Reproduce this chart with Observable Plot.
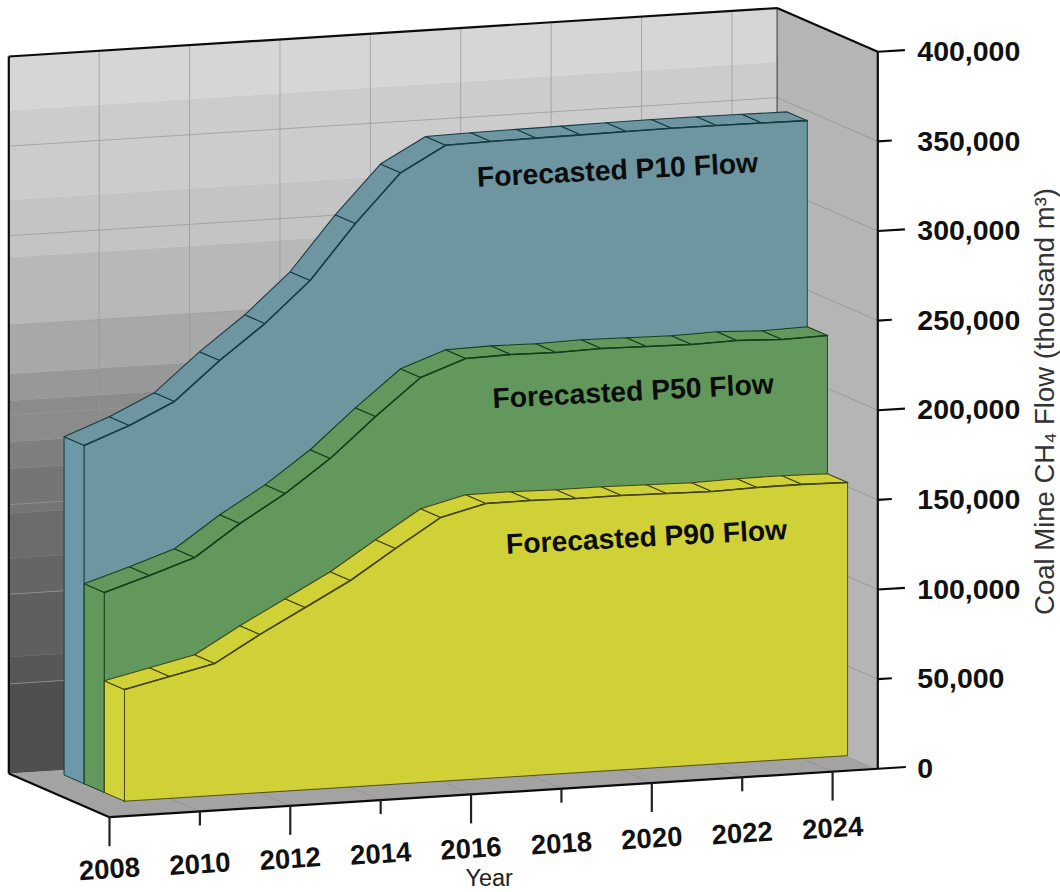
<!DOCTYPE html>
<html>
<head>
<meta charset="utf-8">
<script src="https://cdn.jsdelivr.net/npm/d3@7"></script>
<script src="https://cdn.jsdelivr.net/npm/@observablehq/plot@0.6"></script>
<style>
html,body{margin:0;padding:0;background:#fff}
svg{display:block}
</style>
</head>
<body>
<div id="chart"></div>
<script>
// ---- Data ----
const years = [2009,2010,2011,2012,2013,2014,2015,2016,2017,2018,2019,2020,2021,2022,2023,2024,2025];
const p10 = [188700,198300,210100,231400,250400,272800,303000,329700,343500,344000,344300,344500,344800,345000,345000,344800,344500];
const p50 = [111600,119500,127900,145300,160400,178400,200200,220400,229400,230000,229600,230200,229700,229300,229900,228900,229500];
const p90 = [62300,68000,73700,88300,101700,115200,131500,147200,153400,153500,153000,153100,152600,152100,152800,152900,152400];

const xTickYears = [2008,2010,2012,2014,2016,2018,2020,2022,2024];
const yTickValues = [0,50000,100000,150000,200000,250000,300000,350000,400000];
const yTickLabels = ["0","50,000","100,000","150,000","200,000","250,000","300,000","350,000","400,000"];

// Back-wall shading: flow level where each grey band starts
const bandStarts = [0,50000,65000,100000,120000,145000,170000,185000,208000,223000,250000,288000,320000,370000];
const bandEnds   = [50000,65000,100000,120000,145000,170000,185000,208000,223000,250000,288000,320000,370000,400000];
const bandGreys  = ["#4f4f4f","#575757","#5f5f5f","#656565","#6c6c6c","#757575","#7f7f7f","#8b8b8b","#989898","#a8a8a8","#b8b8b8","#c4c4c4","#cccccc","#d6d6d6"];

const ribbons = [
  {name:"P10", values:p10, back:0.9, front:0.7, fill:"#6d96a1", side:"#6c99a7", edge:"#173c44"},
  {name:"P50", values:p50, back:0.7, front:0.5, fill:"#62985c", side:"#62985c", edge:"#143f1c"},
  {name:"P90", values:p90, back:0.5, front:0.3, fill:"#cfd136", side:"#d2d338", edge:"#43430e"}
];
const notes = [
  {text:"Forecasted P10 Flow", year:2020.8,  flow:323400, d:0.7},
  {text:"Forecasted P50 Flow", year:2020.7,  flow:205000, d:0.5},
  {text:"Forecasted P90 Flow", year:2020.55, flow:128800, d:0.3}
];

// ---- Oblique 3D: depth d (0 front .. 1 back) sheared into year/flow space ----
const pxPerYear = (877.3-109)/17, pxPerFlow = 717/400000;
const riseYear = 2.85, depthX = 100.7, depthY = 43.7;
const X = (year, d=0) => year - d*depthX/pxPerYear;
const Y = (year, flow, d=0) => flow + ((year-2008)*riseYear + d*depthY)/pxPerFlow;
const pt = (year, flow, d, z) => ({x:X(year,d), y:Y(year,flow,d), z});

const pxFlow = px => px/pxPerFlow;
const poly = (pts, opts) => Plot.line(pts, {x:"x", y:"y", z:"z", curve:"linear", strokeLinejoin:"round", ...opts});
const quad = (id, a) => [...a, a[0]].map(p => pt(p[0], p[1], p[2], id));
const seg = (y1,f1,d1,y2,f2,d2) => ({x1:X(y1,d1), y1:Y(y1,f1,d1), x2:X(y2,d2), y2:Y(y2,f2,d2)});
const lks = (rows, opts) => Plot.link(rows, {x1:"x1", y1:"y1", x2:"x2", y2:"y2", ...opts});

// walls
const xMin = 2008, xMax = 2025, yTop = 400000;
const bandMarks = bandStarts.map((s,i) => poly(quad("b"+s, [[xMin,s,1],[xMax,s,1],[xMax,bandEnds[i],1],[xMin,bandEnds[i],1]]), {fill:bandGreys[i], stroke:bandGreys[i], strokeWidth:0.5}));
const rightWall = poly(quad("r", [[xMax,0,0],[xMax,yTop,0],[xMax,yTop,1],[xMax,0,1]]), {fill:"#b5b5b5", stroke:"none"});
const floorFace = poly(quad("f", [[xMin,0,0],[xMax,0,0],[xMax,0,1],[xMin,0,1]]), {fill:"#a3a3a3", stroke:"none"});

const gridBackV = lks(xTickYears.slice(1).map(t=>seg(t,0,1,t,yTop,1)), {stroke:"#989898", strokeWidth:1, strokeOpacity:0.75});
const gridBackH = lks(yTickValues.slice(1,-1).map(f=>seg(xMin,f,1,xMax,f,1)), {stroke:"#989898", strokeWidth:1, strokeOpacity:0.75});
const gridRight = lks(yTickValues.slice(1,-1).map(f=>seg(xMax,f,0,xMax,f,1)), {stroke:"#9a9a9a", strokeWidth:1});
const gridFloor = lks(xTickYears.map(t=>seg(t,0,0,t,0,1)), {stroke:"#949494", strokeWidth:1});

// ribbons
function ribbonMarks(r) {
  const n = years.length;
  const first = years[0], last = years[n-1];
  const side = quad(r.name+"s", [[first,0,r.front],[first,0,r.back],[first,r.values[0],r.back],[first,r.values[0],r.front]]);
  const strips = [];
  for (let i=0;i<n-1;i++) {
    strips.push(...quad(r.name+"t"+i, [[years[i],r.values[i],r.back],[years[i+1],r.values[i+1],r.back],[years[i+1],r.values[i+1],r.front],[years[i],r.values[i],r.front]]));
  }
  const front = [[first,0,r.front], ...years.map((y,i)=>[y,r.values[i],r.front]), [last,0,r.front]];
  const frontPts = quad(r.name+"f", front);
  const topLine = years.map((y,i)=>pt(y,r.values[i],r.front,r.name+"l"));
  return [
    poly(side, {fill:r.side, stroke:r.edge, strokeWidth:1}),
    poly(strips, {fill:r.fill, stroke:r.edge, strokeWidth:1.1}),
    poly(frontPts, {fill:r.fill, stroke:r.edge, strokeWidth:0.9}),
    poly(topLine, {stroke:r.edge, strokeWidth:1.6})
  ];
}

// frame and axes
const frameLines = lks([
  seg(xMin,0,1,xMin,yTop,1), seg(xMin,yTop,1,xMax,yTop,1), seg(xMax,yTop,1,xMax,yTop,0),
  seg(xMin,0,1,xMin,0,0), seg(xMin,0,0,xMax+0.62,0,0), seg(xMax,0,0,xMax,yTop,0)
], {stroke:"#0c0c0c", strokeWidth:2.2});
const backCorner = lks([seg(xMax,0,1,xMax,yTop,1)], {stroke:"#333", strokeWidth:1});
const yTicks = lks(yTickValues.slice(1).map(f=>seg(xMax,f,0,xMax+(f%100000===0?0.6:0.31),f,0)), {stroke:"#0c0c0c", strokeWidth:2.2});
const xTicks = lks(xTickYears.map((t,i)=>seg(t,0,0,t,-pxFlow(i%2===0?29:14),0)), {stroke:"#222", strokeWidth:2.2});

const yLabels = Plot.text(yTickValues.map((f,i)=>({x:X(xMax), y:Y(xMax,f,0), t:yTickLabels[i]})), {
  x:"x", y:"y", text:"t", dx:39.5, textAnchor:"start", lineAnchor:"middle",
  fontFamily:"Liberation Sans", fontWeight:"bold", fontSize:28.5, fill:"#111"
});
const xLabels = Plot.text(xTickYears.map(t=>({x:t, y:Y(t,-pxFlow(52.3+(t-2008)*0.29),0), t:String(t)})), {
  x:"x", y:"y", text:"t", rotate:-3.6, textAnchor:"middle", lineAnchor:"middle",
  fontFamily:"Liberation Sans", fontWeight:"bold", fontSize:27.5, fill:"#111"
});
const noteMarks = Plot.text(notes.map(n=>({x:X(n.year,n.d), y:Y(n.year,n.flow,n.d), t:n.text})), {
  x:"x", y:"y", text:"t", rotate:-3, textAnchor:"middle", lineAnchor:"middle",
  fontFamily:"Liberation Sans", fontWeight:"bold", fontSize:28.3, fill:"#0c0c0c"
});
const xTitle = Plot.text([{x:2016.4, y:-pxFlow(61), t:"Year"}], {
  x:"x", y:"y", text:"t", textAnchor:"middle", lineAnchor:"middle",
  fontFamily:"Liberation Sans", fontSize:23.5, fill:"#222"
});
const yTitle = Plot.text([{x:2028.7, y:pxFlow(415.7), t:"Coal Mine CH₄ Flow (thousand m³)"}], {
  x:"x", y:"y", text:"t", rotate:-90, textAnchor:"middle", lineAnchor:"middle",
  fontFamily:"Liberation Sans", fontSize:27.5, fill:"#333"
});

const chart = Plot.plot({
  width:1060, height:892,
  marginTop:0, marginRight:0, marginBottom:0, marginLeft:0,
  style:{background:"#fff", overflow:"visible"},
  x:{domain:[xMin,xMax], range:[109,877.3], axis:null},
  y:{domain:[0,yTop], range:[816.7,99.7], axis:null},
  marks:[
    ...bandMarks, rightWall, floorFace,
    gridBackV, gridBackH, gridRight, gridFloor, backCorner,
    ...ribbons.flatMap(ribbonMarks),
    frameLines, yTicks, xTicks,
    yLabels, xLabels, noteMarks, xTitle, yTitle
  ]
});
document.getElementById("chart").appendChild(chart);
</script>
</body>
</html>
